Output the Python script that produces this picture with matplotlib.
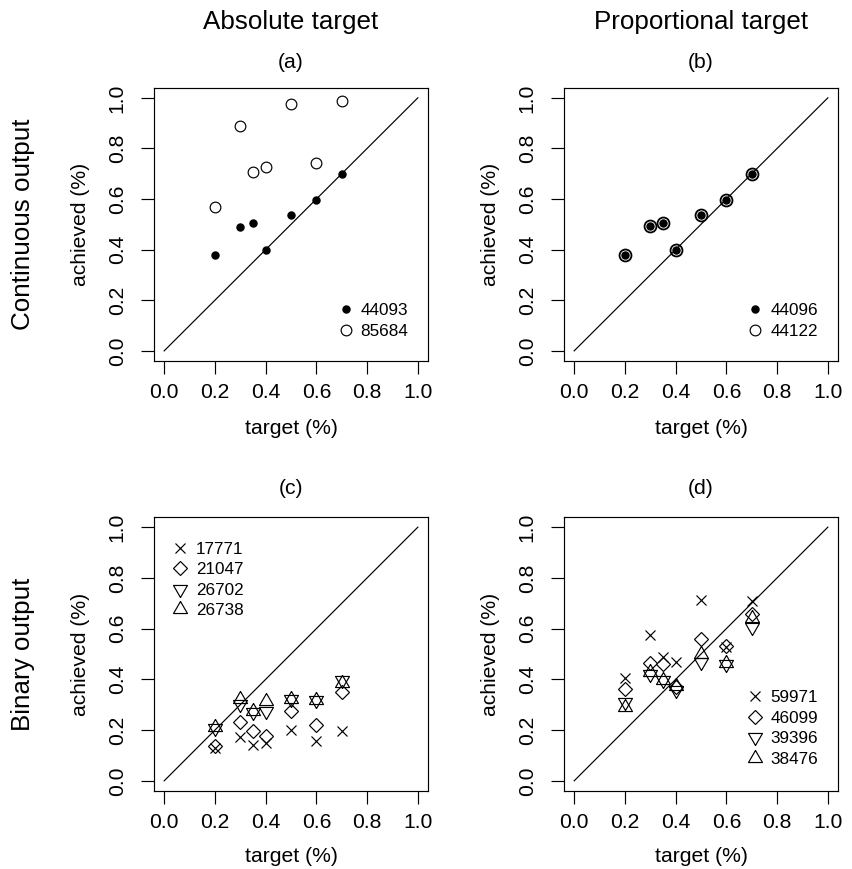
import matplotlib
matplotlib.use("Agg")
import matplotlib.pyplot as plt
from matplotlib.lines import Line2D

plt.rcParams['font.family'] = ['Liberation Sans', 'DejaVu Sans']

# ---------------- data ----------------
targets = [0.2, 0.3, 0.35, 0.4, 0.5, 0.6, 0.7]
diag = [0.0, 1.0]
ticks = [0.0, 0.2, 0.4, 0.6, 0.8, 1.0]
tick_labels = ["0.0", "0.2", "0.4", "0.6", "0.8", "1.0"]

a_44093 = [0.379, 0.488, 0.505, 0.399, 0.537, 0.595, 0.700]
a_85684 = [0.568, 0.889, 0.707, 0.725, 0.974, 0.742, 0.987]

b_44096 = [0.379, 0.493, 0.507, 0.399, 0.537, 0.595, 0.700]
b_44122 = [0.379, 0.493, 0.507, 0.399, 0.537, 0.595, 0.700]

c_17771 = [0.128, 0.174, 0.141, 0.148, 0.201, 0.156, 0.198]
c_21047 = [0.139, 0.231, 0.198, 0.178, 0.277, 0.221, 0.350]
c_26702 = [0.207, 0.301, 0.272, 0.277, 0.324, 0.320, 0.396]
c_26738 = [0.211, 0.321, 0.277, 0.313, 0.321, 0.317, 0.386]

d_59971 = [0.406, 0.575, 0.489, 0.469, 0.711, 0.528, 0.709]
d_46099 = [0.363, 0.465, 0.460, 0.370, 0.561, 0.532, 0.657]
d_39396 = [0.310, 0.423, 0.396, 0.359, 0.469, 0.462, 0.608]
d_38476 = [0.291, 0.429, 0.396, 0.373, 0.499, 0.466, 0.641]

col_titles = ["Absolute target", "Proportional target"]
row_titles = ["Continuous output", "Binary output"]
panel_titles = ["(a)", "(b)", "(c)", "(d)"]
xlabel = "target (%)"
ylabel = "achieved (%)"

# ---------------- layout ----------------
W, H = 852, 869
fig = plt.figure(figsize=(W / 100, H / 100), dpi=100)


def rect(l, t, r, b):
    return [l / W, 1 - b / H, (r - l) / W, (b - t) / H]


def fx(px):
    return px / W


def fy(py):
    return 1 - py / H


boxes = {
    'a': (154, 87.7, 428, 361),
    'b': (564, 87.7, 838, 361),
    'c': (154, 517, 428, 791),
    'd': (564, 517, 838, 791),
}

LW = 0.85
# R-style equilateral triangles
tri_up = [(0, 1.555), (1.347, -0.778), (-1.347, -0.778), (0, 1.555)]
tri_dn = [(0, -1.555), (1.347, 0.778), (-1.347, 0.778), (0, -1.555)]

axes = {}
for key, (l, t, r, b) in boxes.items():
    ax = fig.add_axes(rect(l, t, r, b))
    ax.set_xlim(-0.04, 1.04)
    ax.set_ylim(-0.04, 1.04)
    ax.set_xticks(ticks)
    ax.set_xticklabels(tick_labels)
    ax.set_yticks(ticks)
    ax.set_yticklabels(tick_labels)
    ax.tick_params(direction='out', length=9.4, width=LW, labelsize=15.2,
                   color='black')
    ax.tick_params(axis='x', pad=6.3)
    ax.tick_params(axis='y', pad=10.2)
    for lab in ax.get_yticklabels():
        lab.set_rotation(90)
        lab.set_va('center')
    for s in ax.spines.values():
        s.set_linewidth(LW)
    ax.plot(diag, diag, color='black', lw=LW, zorder=1)
    axes[key] = ax

common = dict(linestyle='none', color='black', markeredgewidth=LW, zorder=3)

# (a)
ax = axes['a']
h1, = ax.plot(targets, a_44093, marker='o', markersize=5.2, label='44093', **common)
h2, = ax.plot(targets, a_85684, marker='o', markersize=7.7, markerfacecolor='none',
              label='85684', **common)

# (b)
ax = axes['b']
g1, = ax.plot(targets, b_44096, marker='o', markersize=5.2, label='44096', **common)
g2, = ax.plot(targets, b_44122, marker='o', markersize=8.6, markerfacecolor='none',
              label='44122', linestyle='none', color='black', markeredgewidth=1.3, zorder=3)
g2_legend = Line2D([], [], linestyle='none', marker='o', markersize=7.7,
                   markerfacecolor='none', color='black', markeredgewidth=LW,
                   label='44122')

# (c)
ax = axes['c']
cs = [
    (c_17771, 'x', 7.4, '17771'),
    (c_21047, 'D', 7.0, '21047'),
    (c_26702, tri_dn, 11.6, '26702'),
    (c_26738, tri_up, 11.6, '26738'),
]
c_handles = []
for ys, m, ms, lab in cs:
    h, = ax.plot(targets, ys, marker=m, markersize=ms, markerfacecolor='none',
                 label=lab, **common)
    c_handles.append(h)

# (d)
ax = axes['d']
ds = [
    (d_59971, 'x', 7.4, '59971'),
    (d_46099, 'D', 7.0, '46099'),
    (d_39396, tri_dn, 11.6, '39396'),
    (d_38476, tri_up, 11.6, '38476'),
]
d_handles = []
for ys, m, ms, lab in ds:
    h, = ax.plot(targets, ys, marker=m, markersize=ms, markerfacecolor='none',
                 label=lab, **common)
    d_handles.append(h)


def put_legend(ax, handles, marker_x, center_y, gap_px, spacing):
    fs = 12.3
    hl = 1.0
    half = hl * fs / 0.72 / 2
    ax.legend(handles=handles, loc='center left',
              bbox_to_anchor=(fx(marker_x - half), fy(center_y)),
              bbox_transform=fig.transFigure, frameon=False, fontsize=fs,
              handlelength=hl, handletextpad=gap_px * 0.72 / fs,
              borderpad=0, borderaxespad=0, labelspacing=spacing, numpoints=1)


put_legend(axes['a'], [h1, h2], 346, 321, 6.2, 0.32)
put_legend(axes['b'], [g1, g2_legend], 755, 321, 7.2, 0.32)
put_legend(axes['c'], c_handles, 180, 580, 7.6, 0.33)
put_legend(axes['d'], d_handles, 755, 728.5, 7.2, 0.33)

# ---------------- texts ----------------
for (key, title) in zip(['a', 'b', 'c', 'd'], panel_titles):
    l, t, r, b = boxes[key]
    ty = 63 if key in 'ab' else 488
    fig.text(fx((l + r) / 2), fy(ty), title, ha='center', va='center', fontsize=15.2)
    xly = 429 if key in 'ab' else 856
    fig.text(fx((l + r) / 2), fy(xly), xlabel, ha='center', va='center', fontsize=15.2)
    fig.text(fx(l - 74), fy((t + b) / 2), ylabel, ha='center', va='center',
             fontsize=15.2, rotation=90)

for key, title in zip(['a', 'b'], col_titles):
    l, t, r, b = boxes[key]
    fig.text(fx((l + r) / 2), fy(22), title, ha='center', va='center', fontsize=18.7)

for key, title in zip(['a', 'c'], row_titles):
    l, t, r, b = boxes[key]
    fig.text(fx(23), fy((t + b) / 2), title, ha='center', va='center', fontsize=18.7,
             rotation=90)

fig.savefig("out.png", dpi=100)
